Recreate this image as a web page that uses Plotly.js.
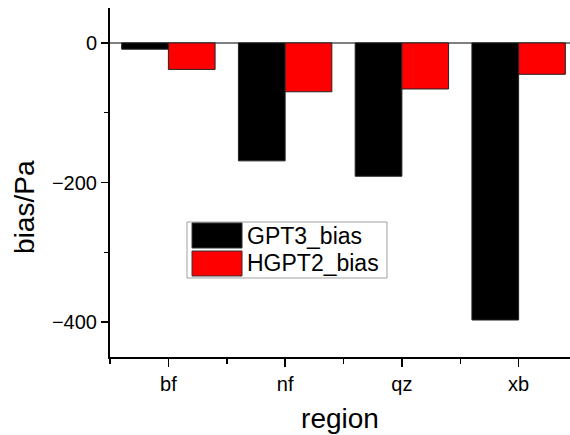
<!DOCTYPE html>
<html>
<head>
<meta charset="utf-8">
<script src="https://cdn.plot.ly/plotly-3.0.1.min.js"></script>
<style>html,body{margin:0;padding:0;background:#fff;}#chart{width:570px;height:435px;}</style>
</head>
<body>
<div id="chart"></div>
<script>
const regions = ['bf', 'nf', 'qz', 'xb'];
const gpt3Bias = [-9, -169, -191, -397];
const hgpt2Bias = [-38, -70, -66, -45];
const seriesNames = ['GPT3_bias', 'HGPT2_bias'];
const seriesColors = ['#000000', '#ff0000'];
const xTitle = 'region';
const yTitle = 'bias/Pa';

const idx = regions.map((_, i) => i);
const FONT = 'Liberation Sans, Arial, sans-serif';

const traces = [gpt3Bias, hgpt2Bias].map((vals, k) => ({
  type: 'bar',
  name: seriesNames[k],
  x: idx,
  y: vals,
  marker: { color: seriesColors[k], line: { color: '#222', width: 1 } },
  showlegend: false
}));

// legend drawn as a boxed key in paper coordinates
const shapes = [
  { type: 'rect', xref: 'paper', yref: 'paper', x0: 0.1674, x1: 0.6022, y0: 0.2264, y1: 0.3868,
    line: { color: '#a0a0a0', width: 1 }, fillcolor: '#ffffff' },
  { type: 'rect', xref: 'paper', yref: 'paper', x0: 0.1783, x1: 0.2870, y0: 0.3123, y1: 0.3840,
    line: { color: '#333', width: 1 }, fillcolor: seriesColors[0] },
  { type: 'rect', xref: 'paper', yref: 'paper', x0: 0.1783, x1: 0.2870, y0: 0.2321, y1: 0.3037,
    line: { color: '#333', width: 1 }, fillcolor: seriesColors[1] }
];
const annotations = [
  { xref: 'paper', yref: 'paper', x: 0.293, y: 0.3467, text: seriesNames[0], showarrow: false,
    xanchor: 'left', yanchor: 'middle', font: { family: FONT, size: 23, color: '#000' } },
  { xref: 'paper', yref: 'paper', x: 0.293, y: 0.2693, text: seriesNames[1], showarrow: false,
    xanchor: 'left', yanchor: 'middle', font: { family: FONT, size: 23, color: '#000' } },
  { xref: 'paper', yref: 'paper', x: -0.1848, y: 0.43, text: yTitle, showarrow: false, textangle: -90,
    xanchor: 'center', yanchor: 'middle', font: { family: FONT, size: 28, color: '#000' } }
];

const layout = {
  width: 570, height: 435,
  margin: { l: 110, r: 0, t: 8, b: 78 },
  paper_bgcolor: '#fff', plot_bgcolor: '#fff',
  barmode: 'group', bargap: 0.2, bargroupgap: 0,
  font: { family: FONT, color: '#000' },
  xaxis: {
    type: 'linear', range: [-0.5, 3.44],
    tickmode: 'array', tickvals: idx, ticktext: regions,
    ticks: 'outside', ticklen: 8, tickwidth: 1.5, tickcolor: '#000',
    minor: { tickmode: 'linear', tick0: -0.5, dtick: 1, ticks: 'outside', ticklen: 5, tickwidth: 1.5, tickcolor: '#000' },
    showline: true, linecolor: '#000', linewidth: 2,
    showgrid: false, zeroline: false,
    tickfont: { family: FONT, size: 20, color: '#000' },
    title: { text: xTitle, font: { family: FONT, size: 28, color: '#000' }, standoff: 14 }
  },
  yaxis: {
    range: [-450, 50],
    tickmode: 'linear', tick0: 0, dtick: 200,
    ticks: 'outside', ticklen: 7, tickwidth: 1.5, tickcolor: '#000',
    minor: { tickmode: 'linear', tick0: 0, dtick: 100, ticks: 'outside', ticklen: 4, tickwidth: 1.5, tickcolor: '#000' },
    showline: true, linecolor: '#000', linewidth: 2,
    showgrid: false, zeroline: true, zerolinecolor: '#808080', zerolinewidth: 1.5,
    tickfont: { family: FONT, size: 20, color: '#000' }
  },
  shapes: shapes,
  annotations: annotations
};

Plotly.newPlot('chart', traces, layout, { displayModeBar: false, staticPlot: true });
</script>
</body>
</html>
